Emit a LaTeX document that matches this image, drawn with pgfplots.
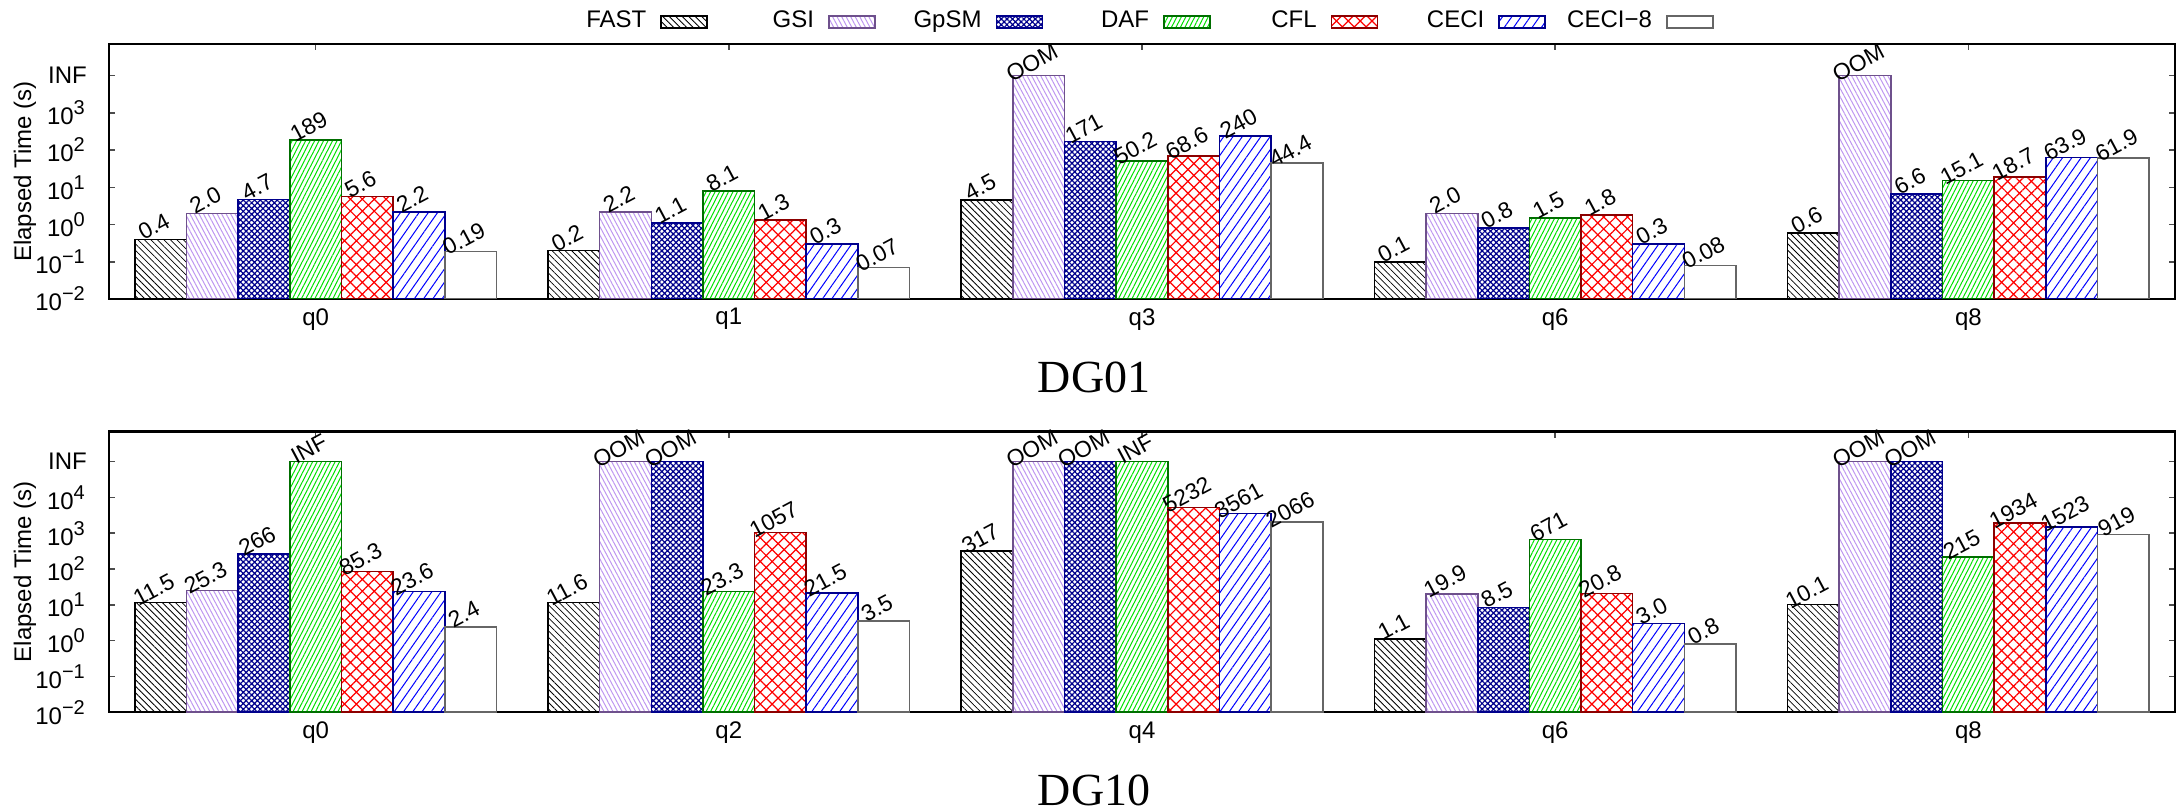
\documentclass[border=0pt]{standalone}
\usepackage{fontspec}
\setmainfont{Liberation Sans}
\newfontfamily\timesf{Liberation Serif}
\usepackage{pgfplots}
\pgfplotsset{compat=1.18}
\usepackage{pgfplotstable}
\usetikzlibrary{patterns.meta}

\definecolor{gsic}{RGB}{190,150,240}
\definecolor{gsib}{RGB}{110,80,140}
\definecolor{navyc}{RGB}{0,0,140}
\definecolor{dafc}{RGB}{0,225,0}
\definecolor{dafb}{RGB}{0,110,0}
\definecolor{cflb}{RGB}{140,0,0}
\definecolor{cecic}{RGB}{0,0,255}

\pgfplotstableread{
x FAST FASTl GSI GSIl GpSM GpSMl DAF DAFl CFL CFLl CECI CECIl CECIe CECIel
0 0.4 0.4 2.0 2.0 4.7 4.7 189 189 5.6 5.6 2.2 2.2 0.19 0.19
1 0.2 0.2 2.2 2.2 1.1 1.1 8.1 8.1 1.3 1.3 0.3 0.3 0.07 0.07
2 4.5 4.5 10000 OOM 171 171 50.2 50.2 68.6 68.6 240 240 44.4 44.4
3 0.1 0.1 2.0 2.0 0.8 0.8 1.5 1.5 1.8 1.8 0.3 0.3 0.08 0.08
4 0.6 0.6 10000 OOM 6.6 6.6 15.1 15.1 18.7 18.7 63.9 63.9 61.9 61.9
}\dgone

\pgfplotstableread{
x FAST FASTl GSI GSIl GpSM GpSMl DAF DAFl CFL CFLl CECI CECIl CECIe CECIel
0 11.5 11.5 25.3 25.3 266 266 100000 INF 85.3 85.3 23.6 23.6 2.4 2.4
1 11.6 11.6 100000 OOM 100000 OOM 23.3 23.3 1057 1057 21.5 21.5 3.5 3.5
2 317 317 100000 OOM 100000 OOM 100000 INF 5232 5232 3561 3561 2066 2066
3 1.1 1.1 19.9 19.9 8.5 8.5 671 671 20.8 20.8 3.0 3.0 0.8 0.8
4 10.1 10.1 100000 OOM 100000 OOM 215 215 1934 1934 1523 1523 919 919
}\dgten

\tikzset{
 fastst/.style={draw=black, pattern={Lines[angle=-45,distance=1.15pt,line width=0.2pt]}, pattern color=black},
 gsist/.style={draw=gsib, pattern={Lines[angle=-62,distance=1.0pt,line width=0.25pt]}, pattern color=gsic},
 gpsmst/.style={draw=navyc, pattern={Hatch[angle=45,distance=1.0pt,line width=0.3pt]}, pattern color=navyc},
 dafst/.style={draw=dafb, pattern={Lines[angle=63,distance=1.0pt,line width=0.25pt]}, pattern color=dafc},
 cflst/.style={draw=cflb, pattern={Hatch[angle=45,distance=2.1pt,line width=0.3pt]}, pattern color=red},
 cecist/.style={draw=navyc, pattern={Lines[angle=55,distance=1.9pt,line width=0.25pt]}, pattern color=cecic},
 ceci8st/.style={draw=black!60, fill=white},
}

\begin{document}
\begin{tikzpicture}
\useasboundingbox (0,0) rectangle (544.75pt,-202.75pt);
\begin{axis}[at={(27.25pt,-11pt)}, anchor=north west,
  scale only axis, width=516.5pt, height=63.75pt,
  ymode=log, log origin=infty, ymin=1e-2, ymax=70795,
  xmin=-0.5, xmax=4.5,
  ybar=0pt, bar width=0.125,
  xtick={0,...,4}, xtick pos=right, xticklabel pos=left,
  ytick pos=both, yticklabel pos=left, tick align=inside,
  yminorticks=false,
  major tick length=1.5pt,
  axis line style={line width=0.6pt},
  tick style={line width=0.4pt, black!70},
  every tick label/.append style={font=\fontsize{6}{7}\selectfont},
  yticklabel style={xshift=-2pt},
  xticklabel style={yshift=1.2pt},
  ylabel={Elapsed Time (s)},
  ylabel style={font=\fontsize{6}{7}\selectfont, at={(axis description cs:-0.0407,0.5)}, anchor=center},
  point meta=explicit symbolic,
  nodes near coords={\pgfplotspointmeta},
  every node near coord/.append style={font=\fontsize{5.7}{7}\selectfont, rotate=28, anchor=south, inner sep=0.8pt, yshift=0.6pt, text=black},
  xlabel style={font=\timesf\fontsize{11.5}{13}\selectfont, at={(axis description cs:0.4768,0)}, anchor=center, yshift=-19.5pt},
  ytick={1e-2,1e-1,1,10,100,1000,10000},
  yticklabels={10\textsuperscript{−2},10\textsuperscript{−1},10\textsuperscript{0},10\textsuperscript{1},10\textsuperscript{2},10\textsuperscript{3},INF},
  xticklabels={q0,q1,q3,q6,q8},
  xlabel={DG01},
  legend image code/.code={\draw[#1] (0pt,-1.5pt) rectangle (11.5pt,1.5pt);},
  legend columns=7, legend plot pos=right,
  legend style={draw=none, fill=none, at={(axis description cs:0.4927,1)}, anchor=south, yshift=0pt,
    font=\fontsize{6}{7}\selectfont, nodes={text width=26pt, align=right, inner sep=0.5pt},
    column sep=0pt, /tikz/every odd column/.append style={column sep=3pt}},
]
\addplot[fastst] table[x=x,y=FAST,meta=FASTl]{\dgone};
\addplot[gsist] table[x=x,y=GSI,meta=GSIl]{\dgone};
\addplot[gpsmst] table[x=x,y=GpSM,meta=GpSMl]{\dgone};
\addplot[dafst] table[x=x,y=DAF,meta=DAFl]{\dgone};
\addplot[cflst] table[x=x,y=CFL,meta=CFLl]{\dgone};
\addplot[cecist] table[x=x,y=CECI,meta=CECIl]{\dgone};
\addplot[ceci8st] table[x=x,y=CECIe,meta=CECIel]{\dgone};
\legend{FAST,GSI,GpSM,DAF,CFL,CECI,CECI−8}
\end{axis}
\begin{axis}[at={(27.25pt,-107.9pt)}, anchor=north west,
  scale only axis, width=516.5pt, height=70.15pt,
  ymode=log, log origin=infty, ymin=1e-2, ymax=691831,
  xmin=-0.5, xmax=4.5,
  ybar=0pt, bar width=0.125,
  xtick={0,...,4}, xtick pos=right, xticklabel pos=left,
  ytick pos=both, yticklabel pos=left, tick align=inside,
  yminorticks=false,
  major tick length=1.5pt,
  axis line style={line width=0.6pt},
  tick style={line width=0.4pt, black!70},
  every tick label/.append style={font=\fontsize{6}{7}\selectfont},
  yticklabel style={xshift=-2pt},
  xticklabel style={yshift=1.2pt},
  ylabel={Elapsed Time (s)},
  ylabel style={font=\fontsize{6}{7}\selectfont, at={(axis description cs:-0.0407,0.5)}, anchor=center},
  point meta=explicit symbolic,
  nodes near coords={\pgfplotspointmeta},
  every node near coord/.append style={font=\fontsize{5.7}{7}\selectfont, rotate=28, anchor=south, inner sep=0.8pt, yshift=0.6pt, text=black},
  xlabel style={font=\timesf\fontsize{11.5}{13}\selectfont, at={(axis description cs:0.4768,0)}, anchor=center, yshift=-19.5pt},
  ytick={1e-2,1e-1,1,10,100,1000,10000,100000},
  yticklabels={10\textsuperscript{−2},10\textsuperscript{−1},10\textsuperscript{0},10\textsuperscript{1},10\textsuperscript{2},10\textsuperscript{3},10\textsuperscript{4},INF},
  xticklabels={q0,q2,q4,q6,q8},
  xlabel={DG10},
]
\addplot[fastst] table[x=x,y=FAST,meta=FASTl]{\dgten};
\addplot[gsist] table[x=x,y=GSI,meta=GSIl]{\dgten};
\addplot[gpsmst] table[x=x,y=GpSM,meta=GpSMl]{\dgten};
\addplot[dafst] table[x=x,y=DAF,meta=DAFl]{\dgten};
\addplot[cflst] table[x=x,y=CFL,meta=CFLl]{\dgten};
\addplot[cecist] table[x=x,y=CECI,meta=CECIl]{\dgten};
\addplot[ceci8st] table[x=x,y=CECIe,meta=CECIel]{\dgten};
\end{axis}
\end{tikzpicture}
\end{document}
